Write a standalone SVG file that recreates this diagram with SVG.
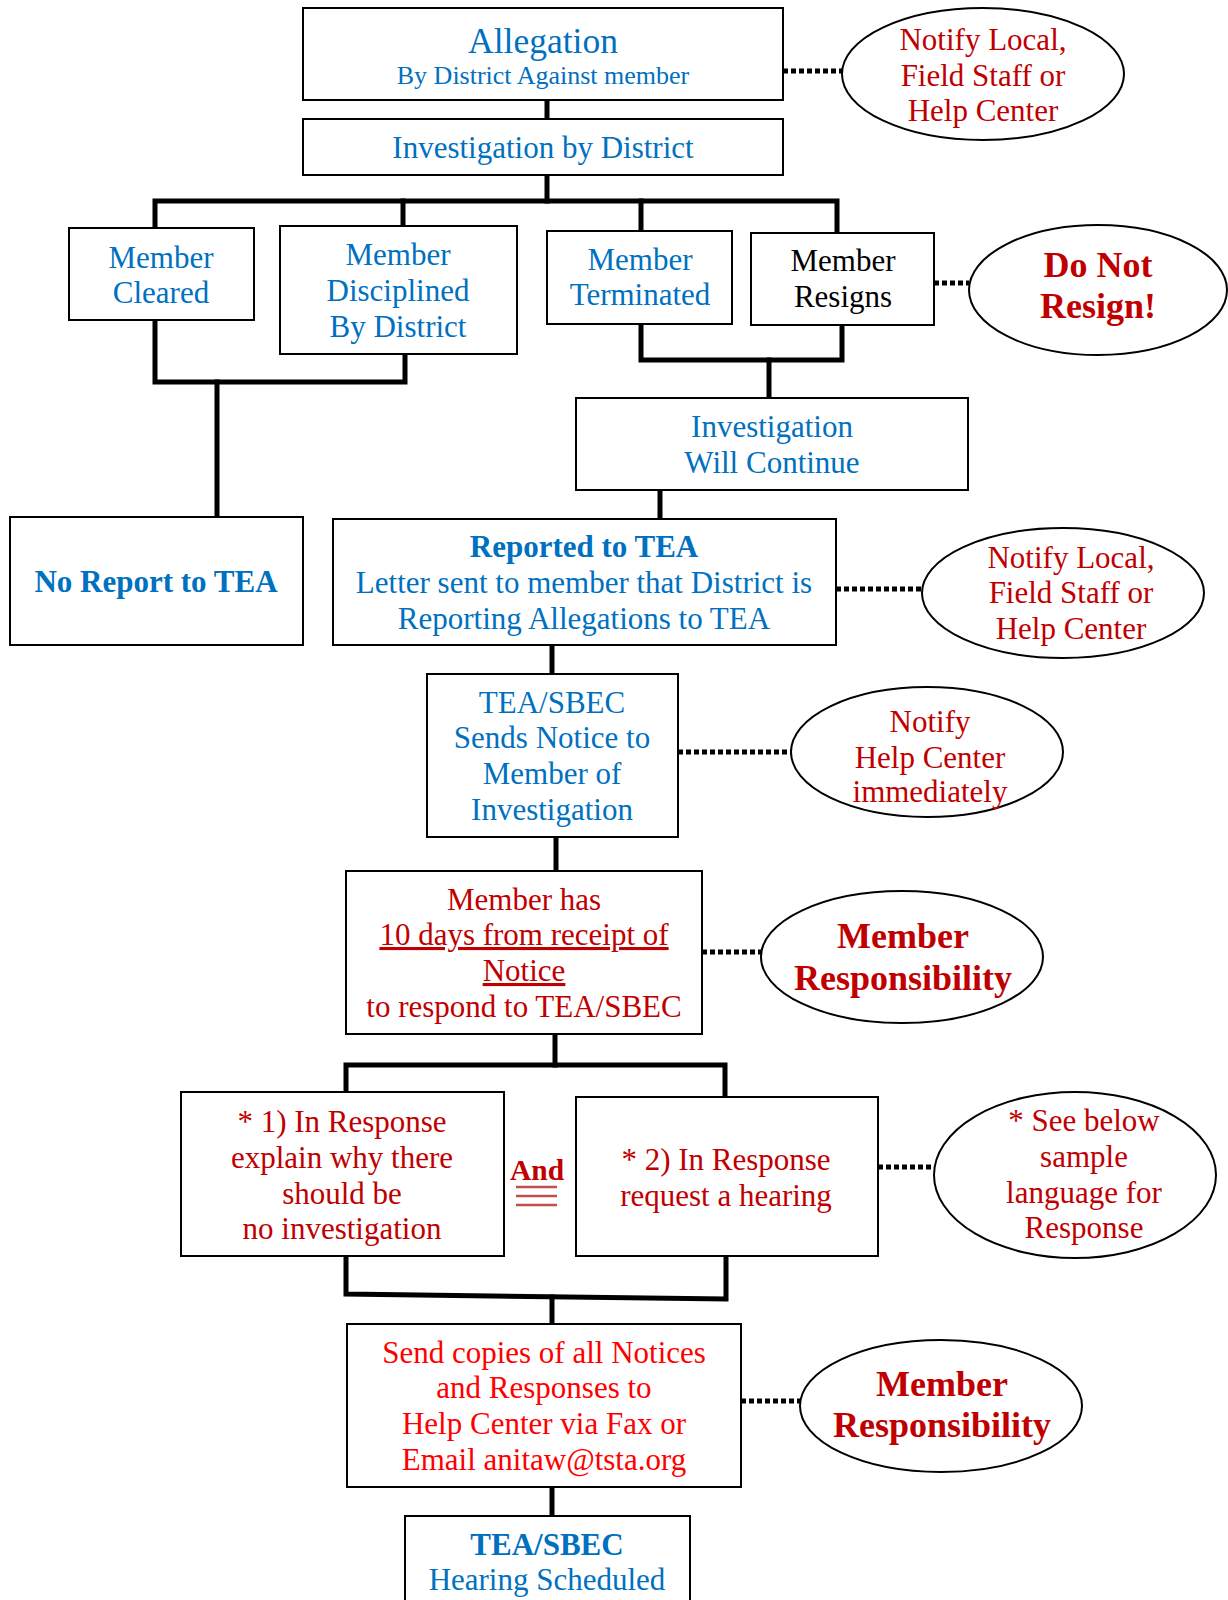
<svg xmlns="http://www.w3.org/2000/svg" width="1228" height="1600" viewBox="0 0 1228 1600">
<style>
.box{fill:#fff;stroke:#000;stroke-width:2}
.ell{fill:#fff;stroke:#000;stroke-width:2}
.ln{fill:none;stroke:#000;stroke-width:5;stroke-linecap:square}
.dot{fill:none;stroke:#000;stroke-width:5;stroke-dasharray:5 3}
text{font-family:"Liberation Serif","Times New Roman",serif;font-size:31px;text-anchor:middle}
.b{fill:#0070c0}
.r{fill:#c00000}
.rr{fill:#ff0000}
.k{fill:#000}
.bold{font-weight:bold}
.big{font-size:36px}
</style>
<rect width="1228" height="1600" fill="#fff"/>
<g id="connectors">
<path class="ln" d="M547 100V119"/>
<path class="ln" d="M547 175V201"/>
<path class="ln" d="M155 228V201H837V233"/>
<path class="ln" d="M403 201V226"/>
<path class="ln" d="M641 201V231"/>
<path class="ln" d="M155 320V382H405V354"/>
<path class="ln" d="M217 382V517"/>
<path class="ln" d="M641 324V360H842V325"/>
<path class="ln" d="M769 360V398"/>
<path class="ln" d="M660 490V519"/>
<path class="ln" d="M552 645V674"/>
<path class="ln" d="M556 837V871"/>
<path class="ln" d="M555 1034V1065"/>
<path class="ln" d="M346 1092V1065H725V1097"/>
<path class="ln" d="M346 1256V1294L726 1299V1256"/>
<path class="ln" d="M552 1297V1324"/>
<path class="ln" d="M552 1487V1516"/>
<path class="dot" d="M783 71H842"/>
<path class="dot" d="M934 283H969"/>
<path class="dot" d="M836 589H922"/>
<path class="dot" d="M678 752H791"/>
<path class="dot" d="M702 952H762"/>
<path class="dot" d="M878 1167H934"/>
<path class="dot" d="M741 1401H801"/>
</g>
<g id="allegation"><rect class="box" x="303" y="8" width="480" height="92"/>
<text class="b" x="543" y="53" style="font-size:35.5px">Allegation</text>
<text class="b" x="543" y="84" style="font-size:26px">By District Against member</text></g>
<g id="notify1"><ellipse class="ell" cx="983" cy="74" rx="141" ry="66"/>
<text class="r" x="983" y="50">Notify Local,</text><text class="r" x="983" y="86">Field Staff or</text><text class="r" x="983" y="121">Help Center</text></g>
<g id="investigation"><rect class="box" x="303" y="119" width="480" height="56"/>
<text class="b" x="543" y="158">Investigation by District</text></g>
<g id="cleared"><rect class="box" x="69" y="228" width="185" height="92"/>
<text class="b" x="161" y="268">Member</text><text class="b" x="161" y="303">Cleared</text></g>
<g id="disciplined"><rect class="box" x="280" y="226" width="237" height="128"/>
<text class="b" x="398" y="265">Member</text><text class="b" x="398" y="301">Disciplined</text><text class="b" x="398" y="337">By District</text></g>
<g id="terminated"><rect class="box" x="547" y="231" width="185" height="93"/>
<text class="b" x="640" y="270">Member</text><text class="b" x="640" y="305">Terminated</text></g>
<g id="resigns"><rect class="box" x="751" y="233" width="183" height="92"/>
<text class="k" x="843" y="271">Member</text><text class="k" x="843" y="307">Resigns</text></g>
<g id="donotresign"><ellipse class="ell" cx="1098" cy="290" rx="129" ry="65"/>
<text class="r bold big" x="1098" y="277">Do Not</text><text class="r bold big" x="1098" y="318">Resign!</text></g>
<g id="willcontinue"><rect class="box" x="576" y="398" width="392" height="92"/>
<text class="b" x="772" y="437">Investigation</text><text class="b" x="772" y="473">Will Continue</text></g>
<g id="noreport"><rect class="box" x="10" y="517" width="293" height="128"/>
<text class="b bold" x="156" y="592">No Report to TEA</text></g>
<g id="reported"><rect class="box" x="333" y="519" width="503" height="126"/>
<text class="b bold" x="584" y="557">Reported to TEA</text><text class="b" x="584" y="593">Letter sent to member that District is</text><text class="b" x="584" y="629">Reporting Allegations to TEA</text></g>
<g id="notify2"><ellipse class="ell" cx="1063" cy="593" rx="141" ry="65"/>
<text class="r" x="1071" y="568">Notify Local,</text><text class="r" x="1071" y="603">Field Staff or</text><text class="r" x="1071" y="639">Help Center</text></g>
<g id="sendsnotice"><rect class="box" x="427" y="674" width="251" height="163"/>
<text class="b" x="552" y="713">TEA/SBEC</text><text class="b" x="552" y="748">Sends Notice to</text><text class="b" x="552" y="784">Member of</text><text class="b" x="552" y="820">Investigation</text></g>
<g id="notify3"><ellipse class="ell" cx="927" cy="752" rx="136" ry="65"/>
<text class="r" x="930" y="732">Notify</text><text class="r" x="930" y="768">Help Center</text><text class="r" x="930" y="802">immediately</text></g>
<g id="tendays"><rect class="box" x="346" y="871" width="356" height="163"/>
<text class="r" x="524" y="910">Member has</text><text class="r" x="524" y="945" text-decoration="underline">10 days from receipt of</text><text class="r" x="524" y="981" text-decoration="underline">Notice</text><text class="r" x="524" y="1017">to respond to TEA/SBEC</text></g>
<g id="resp1"><ellipse class="ell" cx="902" cy="957" rx="141" ry="66"/>
<text class="r bold big" x="903" y="948">Member</text><text class="r bold big" x="903" y="990">Responsibility</text></g>
<g id="response1"><rect class="box" x="181" y="1092" width="323" height="164"/>
<text class="r" x="342" y="1132">* 1) In Response</text><text class="r" x="342" y="1168">explain why there</text><text class="r" x="342" y="1204">should be</text><text class="r" x="342" y="1239">no investigation</text></g>
<g id="and"><text class="r bold" x="537" y="1180" style="font-size:29.5px">And</text>
<path d="M516 1187H557M516 1196H557M516 1205H557" stroke="#c0504d" stroke-width="2.5" fill="none"/></g>
<g id="response2"><rect class="box" x="576" y="1097" width="302" height="159"/>
<text class="r" x="726" y="1170">* 2) In Response</text><text class="r" x="726" y="1206">request a hearing</text></g>
<g id="sample"><ellipse class="ell" cx="1075" cy="1175" rx="141" ry="83"/>
<text class="r" x="1084" y="1131">* See below</text><text class="r" x="1084" y="1167">sample</text><text class="r" x="1084" y="1203">language for</text><text class="r" x="1084" y="1238">Response</text></g>
<g id="sendcopies"><rect class="box" x="347" y="1324" width="394" height="163"/>
<text class="rr" x="544" y="1363">Send copies of all Notices</text><text class="rr" x="544" y="1398">and Responses to</text><text class="rr" x="544" y="1434">Help Center via Fax or</text><text class="rr" x="544" y="1470">Email anitaw@tsta.org</text></g>
<g id="resp2"><ellipse class="ell" cx="941" cy="1406" rx="141" ry="66"/>
<text class="r bold big" x="942" y="1396">Member</text><text class="r bold big" x="942" y="1437">Responsibility</text></g>
<g id="hearing"><rect class="box" x="405" y="1516" width="285" height="100"/>
<text class="b bold" x="547" y="1555">TEA/SBEC</text><text class="b" x="547" y="1590">Hearing Scheduled</text></g>
</svg>
